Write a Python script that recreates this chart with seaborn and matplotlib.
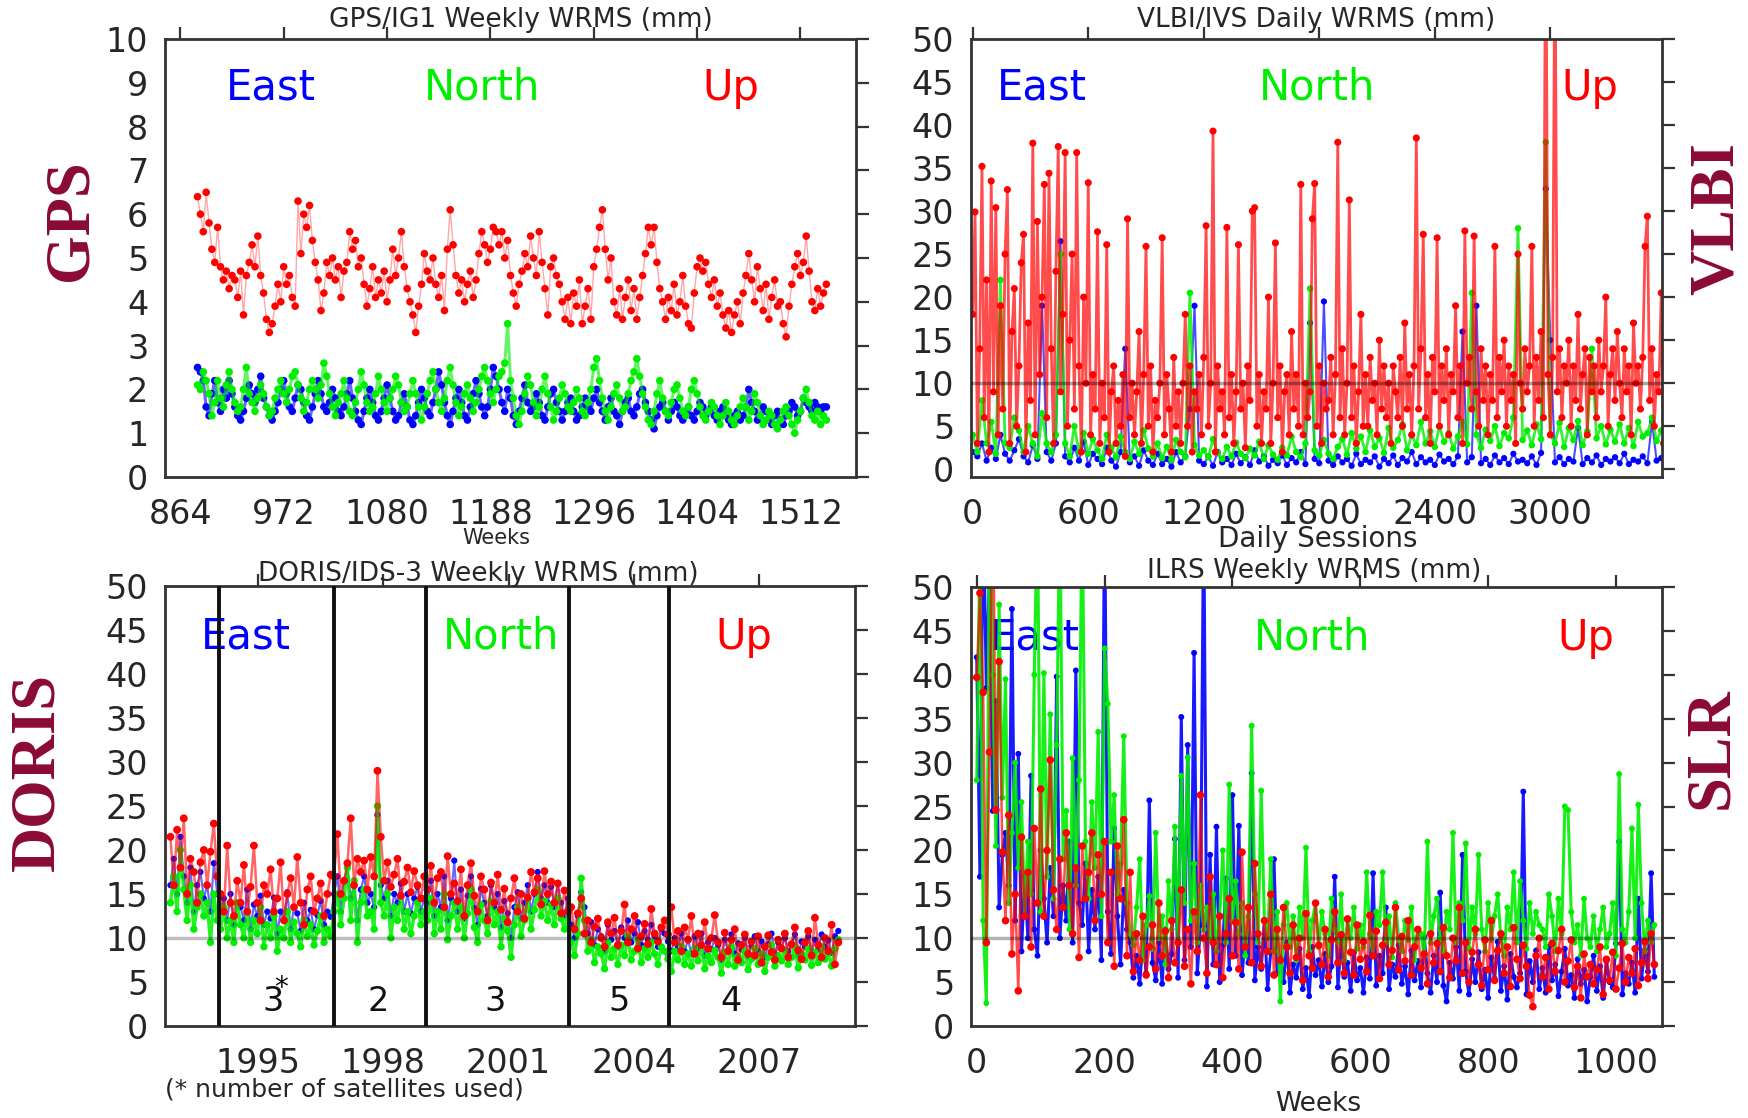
import numpy as np
import pandas as pd
import matplotlib
matplotlib.use("Agg")
import matplotlib.pyplot as plt
import seaborn as sns

# ---------------- data ----------------
# GPS (weekly, every 3rd week shown)
gps_start, gps_step = 882, 3
gps_up = [6.4, 6.0, 5.6, 6.5, 5.8, 5.2, 4.9, 5.7, 4.8, 4.5,
          4.7, 4.3, 4.6, 4.5, 4.1, 4.7, 3.7, 4.6, 4.9, 5.3,
          4.8, 5.5, 4.6, 4.2, 3.6, 3.3, 3.5, 3.9, 4.4, 4.0,
          4.8, 4.4, 4.6, 4.1, 3.9, 6.3, 5.1, 6.0, 5.7, 6.2,
          5.4, 4.9, 4.5, 3.8, 4.2, 4.9, 4.6, 5.0, 4.5, 4.8,
          4.1, 4.7, 4.9, 5.6, 5.2, 5.4, 4.8, 5.0, 4.4, 3.9,
          4.3, 4.8, 4.1, 4.5, 4.2, 4.7, 4.0, 4.5, 5.2, 4.6,
          5.0, 5.6, 4.8, 4.3, 4.0, 3.7, 3.3, 3.9, 4.4, 5.1,
          4.7, 4.5, 5.0, 4.4, 4.1, 4.6, 3.8, 5.2, 6.1, 5.3,
          4.6, 4.2, 4.5, 4.0, 4.4, 4.7, 4.1, 4.5, 5.1, 5.6,
          5.3, 4.9, 5.2, 5.7, 5.6, 5.3, 5.6, 5.0, 5.4, 4.6,
          4.2, 3.9, 4.4, 4.7, 5.1, 4.8, 5.5, 5.0, 4.6, 5.6,
          4.9, 4.3, 3.7, 4.8, 5.0, 4.6, 4.4, 4.0, 3.6, 4.1,
          3.5, 4.2, 3.9, 4.5, 3.5, 3.9, 4.3, 3.6, 4.8, 5.2,
          5.7, 6.1, 5.2, 4.5, 5.0, 4.0, 3.7, 4.3, 3.6, 4.1,
          4.5, 3.8, 4.3, 3.6, 4.1, 4.6, 5.1, 5.7, 5.3, 5.7,
          4.9, 4.3, 4.0, 3.6, 4.1, 3.8, 4.4, 3.7, 4.0, 4.6,
          3.9, 3.5, 3.4, 4.2, 4.8, 5.0, 4.7, 4.9, 4.4, 4.1,
          4.5, 3.9, 4.2, 3.7, 3.4, 3.8, 3.3, 3.7, 4.0, 3.5,
          4.2, 4.6, 5.1, 4.5, 4.0, 4.8, 4.3, 3.8, 4.4, 3.6,
          4.1, 4.5, 3.9, 4.0, 3.5, 3.2, 3.9, 4.4, 4.8, 5.1,
          4.6, 4.9, 5.5, 4.7, 4.0, 3.8, 4.3, 3.9, 4.2, 4.4]
gps_east = [2.5, 2.4, 2.2, 1.6, 1.4, 1.9, 2.2, 1.7, 1.5, 2.0,
            1.8, 2.2, 1.9, 1.6, 1.4, 1.3, 1.5, 1.8, 2.1, 1.9,
            1.7, 2.0, 2.3, 1.8, 1.6, 1.4, 1.3, 1.5, 1.7, 2.0,
            2.2, 1.9, 1.6, 1.5, 1.8, 2.1, 2.0, 1.7, 1.4, 1.3,
            1.6, 1.9, 2.2, 1.9, 1.6, 1.5, 1.7, 2.0, 1.8, 1.5,
            1.4, 1.6, 1.9, 2.2, 1.8, 1.5, 1.3, 1.2, 1.5, 1.8,
            2.0, 1.7, 1.4, 1.3, 1.5, 1.8, 2.1, 1.8, 1.5, 1.3,
            1.4, 1.7, 1.9, 1.6, 1.3, 1.2, 1.4, 1.7, 2.0, 1.8,
            1.5, 1.4, 1.7, 2.0, 2.4, 2.1, 1.7, 1.4, 1.2, 1.5,
            1.8, 2.0, 1.7, 1.4, 1.3, 1.6, 1.9, 2.2, 1.9, 1.6,
            1.4, 1.6, 2.0, 2.5, 2.3, 2.0, 1.7, 1.5, 2.0, 1.8,
            1.4, 1.2, 1.5, 1.8, 2.1, 1.7, 1.5, 1.6, 1.9, 1.7,
            1.4, 1.3, 1.6, 1.9, 2.0, 1.7, 1.5, 1.3, 1.5, 1.7,
            1.8, 1.5, 1.3, 1.4, 1.6, 1.8, 1.6, 1.5, 1.8, 2.0,
            1.7, 1.5, 1.3, 1.6, 1.8, 1.5, 1.4, 1.2, 1.5, 1.7,
            1.8, 1.5, 1.4, 1.6, 1.9, 2.0, 1.7, 1.5, 1.3, 1.1,
            1.4, 1.6, 1.7, 1.5, 1.3, 1.5, 1.7, 1.6, 1.4, 1.3,
            1.5, 1.6, 1.4, 1.3, 1.5, 1.7, 1.6, 1.4, 1.5, 1.6,
            1.4, 1.3, 1.5, 1.6, 1.4, 1.3, 1.2, 1.4, 1.5, 1.3,
            1.4, 1.6, 2.0, 1.7, 1.5, 1.3, 1.4, 1.6, 1.5, 1.3,
            1.2, 1.4, 1.5, 1.3, 1.2, 1.4, 1.5, 1.7, 1.6, 1.4,
            1.5, 1.8, 1.7, 1.6, 1.5, 1.7, 1.6, 1.5, 1.6, 1.6]
gps_north = [2.1, 2.0, 2.4, 2.2, 1.9, 1.4, 1.7, 2.2, 1.8, 1.6,
             2.1, 2.4, 2.0, 1.7, 1.5, 1.6, 2.0, 2.5, 1.9, 1.7,
             1.5, 1.8, 2.1, 1.9, 1.6, 1.4, 1.5, 1.8, 2.0, 2.2,
             1.9, 1.7, 2.0, 2.3, 2.4, 2.1, 1.8, 1.5, 1.7, 2.0,
             2.2, 2.0, 1.8, 2.1, 2.6, 2.3, 1.9, 1.6, 1.4, 1.7,
             1.9, 2.2, 1.8, 1.5, 1.4, 1.7, 2.0, 2.4, 2.1, 1.7,
             1.5, 1.6, 1.9, 2.3, 2.0, 1.7, 1.5, 1.8, 2.0, 2.3,
             2.1, 1.7, 1.5, 1.6, 1.9, 2.2, 1.9, 1.6, 1.3, 1.6,
             1.9, 2.2, 2.4, 2.0, 1.7, 1.5, 1.8, 2.2, 2.5, 2.1,
             1.7, 1.4, 1.6, 1.9, 2.1, 1.8, 1.5, 1.7, 2.0, 2.3,
             2.5, 2.2, 1.9, 1.7, 2.0, 2.3, 2.4, 2.6, 3.5, 2.2,
             1.8, 1.4, 1.2, 1.5, 1.9, 2.3, 2.1, 1.7, 1.4, 1.6,
             2.0, 2.3, 1.9, 1.6, 1.3, 1.5, 1.8, 2.1, 1.9, 1.6,
             1.5, 1.7, 2.0, 1.8, 1.5, 1.4, 1.7, 2.0, 2.5, 2.7,
             2.2, 1.8, 1.5, 1.3, 1.6, 1.9, 2.1, 1.8, 1.5, 1.6,
             1.9, 2.2, 2.4, 2.7, 2.3, 1.9, 1.6, 1.3, 1.2, 1.5,
             1.9, 2.2, 1.8, 1.5, 1.4, 1.7, 2.0, 2.1, 1.8, 1.5,
             1.4, 1.6, 2.0, 2.2, 1.9, 1.6, 1.4, 1.3, 1.5, 1.7,
             1.6, 1.4, 1.2, 1.4, 1.7, 1.5, 1.3, 1.2, 1.4, 1.6,
             1.8, 1.6, 1.3, 1.5, 1.9, 1.7, 1.4, 1.2, 1.3, 1.5,
             1.4, 1.2, 1.1, 1.3, 1.5, 1.6, 1.4, 1.2, 1.0, 1.3,
             1.5, 1.8, 2.0, 1.7, 1.4, 1.3, 1.5, 1.2, 1.4, 1.3]

# VLBI (daily sessions; Up every 12th session, East/North every 24th)
vlbi_up_step, vlbi_en_step = 12, 24
vlbi_up = [18, 29.9, 3, 14, 35.2, 6, 22, 2, 33.5, 9,
           30.4, 4, 19, 7, 25, 32.5, 3, 16, 21, 5,
           12, 24, 27.3, 2, 17, 8, 37.9, 4, 28.8, 11,
           20, 33.1, 6, 34.4, 14, 3, 23, 37.5, 9, 18,
           36.8, 5, 15, 25, 7, 36.8, 12, 2, 20, 10,
           33.3, 4, 11, 7, 27.6, 3, 10, 6, 26.1, 2,
           9, 12, 3, 8, 5, 11, 1.5, 29.1, 6, 10,
           4, 9, 16, 3, 11, 25.9, 5, 12, 2, 8,
           6, 10, 26.9, 4, 11, 7, 2, 13, 5, 9,
           3, 10, 18, 5, 12, 2, 9, 7, 11, 4,
           13, 28.3, 5, 10, 39.3, 2, 12, 7, 9, 4,
           28.1, 6, 11, 3, 9, 26.1, 7, 10, 2.5, 12,
           8, 30, 30.4, 5, 11, 3, 9, 7, 20, 3,
           10, 26.3, 6, 12, 2, 9, 11, 4, 16, 7,
           11, 5, 33.1, 4, 10, 6, 9, 29.1, 33.2, 5,
           12, 3, 10, 7, 8, 13, 4, 11, 38, 6,
           14, 4, 10, 31.3, 6, 12, 3, 9, 18, 5,
           11, 5, 13, 8, 10, 4, 15, 7, 12, 6,
           10, 3, 12, 9, 6, 13, 5, 17, 7, 11,
           4, 12, 38.5, 7, 14, 27.3, 6, 11, 3, 13,
           9, 26.9, 5, 12, 8, 14, 4, 11, 9, 19,
           6, 12, 3, 27.7, 10, 13, 7, 27.1, 9, 5,
           14, 8, 12, 4, 11, 8, 25.9, 6, 13, 9,
           15, 5, 12, 8, 11, 3, 25, 10, 7, 14,
           9, 12, 25.9, 5, 13, 8, 16, 6, 70, 11,
           4, 13, 65, 9, 14, 6, 12, 10, 15, 5,
           12, 8, 18, 7, 11, 14, 4, 13, 9, 12,
           6, 15, 9, 12, 20, 5, 11, 14, 8, 16,
           10, 6, 14, 9, 12, 4, 17, 10, 12, 7,
           13, 25.9, 29.4, 8, 14, 5, 11, 9, 20.5, 3]
vlbi_east = [2, 1.5, 3, 1, 2.5, 1.2, 4, 1.8, 1, 2.2,
             3.5, 1.5, 0.8, 2.8, 1.2, 19, 2, 1, 3, 26.5,
             1.5, 0.8, 2.5, 1, 3.2, 0.5, 1.8, 1.2, 0.6, 2.5,
             1, 0.3, 2, 14, 0.8, 1.5, 0.4, 2.2, 1, 0.5,
             1.8, 0.6, 1.2, 0.3, 2, 0.8, 1.5, 7, 19, 1,
             0.6, 1.5, 0.4, 2, 0.8, 1.2, 0.5, 1.8, 0.7, 1.4,
             0.5, 2.2, 0.9, 1.5, 0.4, 1.1, 0.7, 1.6, 0.5, 1.3,
             0.8, 2, 0.6, 17, 1.2, 0.7, 19.5, 1, 0.5, 1.5,
             0.8, 1.2, 0.4, 1.8, 0.6, 1.1, 0.8, 1.5, 0.3, 1.2,
             0.7, 1.6, 0.5, 1.3, 0.9, 2, 0.6, 1.4, 0.8, 1.1,
             0.5, 1.7, 0.9, 1.2, 0.6, 1.5, 16, 0.8, 1.4, 19,
             0.7, 1.2, 0.5, 1.6, 0.8, 1.3, 0.6, 1.8, 0.9, 1.1,
             0.7, 1.5, 0.5, 1.9, 32.6, 15, 0.8, 1.4, 0.6, 1.2,
             0.9, 4.8, 0.6, 1.3, 0.8, 1.6, 0.5, 1.2, 0.9, 1.4,
             0.7, 1.8, 0.6, 1.1, 0.9, 1.5, 0.7, 5.5, 1, 1.3]
vlbi_north = [4, 2, 8, 3, 5.5, 1.8, 22, 3, 2.5, 6,
              4.5, 2, 5, 3, 1.5, 6.5, 3, 2, 4, 25,
              3, 1.5, 5, 2, 4.2, 1.8, 3.5, 2.2, 1.2, 4,
              2.5, 1.4, 3.8, 2, 1.2, 3.2, 1.8, 4.5, 2.4, 1.5,
              3, 1.3, 2.6, 1.1, 3.4, 2, 1.4, 20.5, 2.8, 1.6,
              2.2, 1.4, 3.5, 1.9, 1.2, 2.6, 1.5, 3.1, 1.8, 1.3,
              2.4, 1.6, 3.2, 1.2, 2.8, 1.7, 1.1, 2.5, 1.6, 3.8,
              2, 1.4, 3, 21, 2.2, 1.6, 3.4, 1.8, 1.2, 2.6,
              3.5, 1.7, 4.2, 2.4, 3.8, 2, 4.5, 2.6, 3.6, 1.9,
              4.8, 2.5, 3.4, 5.2, 2.2, 4, 2.8, 5.5, 3, 4.4,
              2.6, 5, 3.2, 4.2, 2.4, 3.8, 5.5, 2.9, 20.5, 4,
              2.5, 4.6, 3.3, 5, 2.7, 4.2, 3.6, 6, 28, 3.4,
              4.5, 2.8, 5.2, 3.5, 38, 4, 3, 5.4, 2.6, 4.8,
              3.4, 5.6, 2.8, 4.4, 14, 3.6, 5, 2.9, 4.6, 3.2,
              5.2, 3, 4.8, 2.7, 5.5, 3.8, 4.2, 6, 3.3, 4.5]

# DORIS (decimal years, sampled every 0.08 yr)
doris_start, doris_step = 1992.90, 0.08
doris_up = [21.5, 16, 22.3, 18, 23.6, 15, 19, 17.5, 14, 18.6, 20, 16, 19.8, 23, 17,
            15, 13, 20.5, 14, 12.5, 16.5, 14, 18.3, 13, 15.8, 20.5, 14, 12, 16, 15, 17.8, 13,
            14.5, 18.6, 12, 15, 16.8, 13.5, 19.2, 14, 11.5, 15.5, 17, 13, 14.5, 16.2, 12.5, 15, 17.2,
            17, 21.8, 15, 16.5, 18.5, 23.6, 16, 19, 17.5, 18.8, 15.5, 19.2, 17, 29, 21.5, 16.5,
            18.6, 15.8, 17.2, 19, 14.8, 16.4, 18, 15.2, 17.6, 16, 14.5, 17,
            15.5, 18.2, 14, 16.8, 17.5, 13.5, 19.3, 15, 16.2, 14.2, 17.8, 12.5, 16, 18.5, 14.8,
            13, 17, 15.5, 12, 16.3, 14, 17.2, 13.2, 15.6, 11.8, 14.5, 16.8, 13, 15, 12.2, 14.6,
            17.5, 15.2, 16.8, 13.8, 17.6, 15, 16.4, 14, 16.2, 12.8, 15.4, 13,
            13.5, 11, 12.8, 14.5, 10.5, 12, 9.5, 11.3, 12.2, 10, 9, 11.8, 10.5, 12.3, 9.2,
            10.8, 13.8, 9.5, 11, 12.5, 8.8, 10.2, 11.6, 9.3, 13.3, 10.5, 9.6, 11.2, 12, 10.4,
            13.5, 9.5, 10.8, 8.5, 11.2, 9.8, 12.5, 8.2, 10.5, 9.2, 11.8, 8.8, 10, 12.6, 9.5,
            7.8, 10.6, 8.5, 9.8, 11, 7.5, 9.2, 10.4, 8.2, 9.6, 8, 10.2, 7.2, 9, 10.3, 8.4,
            7.5, 9.8, 8.8, 10.5, 7.8, 9.3, 11.2, 8.6, 7.6, 9.5, 10.8, 8, 12.3, 9.2, 7.8, 10,
            8.5, 11.5, 7, 9.5]
doris_north = [14, 17, 13, 20, 15.5, 12, 16, 11, 13.5, 15, 12.5, 14, 9.5, 15, 12,
               11, 13.5, 10, 12, 9.5, 14, 11.5, 10, 13, 9.5, 12, 10.5, 13.5, 9, 11.5, 10, 12.5,
               8.5, 11, 10, 13, 9.5, 11.8, 10.5, 9, 12, 10.2, 11.5, 9.2, 10.8, 12.5, 9.5, 11, 10.2,
               13, 15, 11.5, 14.5, 18, 12, 16.5, 9.5, 14, 15.5, 12.5, 13, 11, 25, 14, 12.5,
               15, 10, 13.5, 12, 14.8, 11, 13, 10.5, 12.5, 14, 11.5, 13,
               12, 14.5, 10.5, 13, 11, 15, 9.8, 12.5, 14, 11, 13.5, 10, 12.8, 15.5, 11.2,
               9.5, 13.8, 12, 10.5, 14.2, 11.5, 13, 9, 12.2, 10.8, 7.8, 11.5, 13.5, 10.2, 12,
               14.5, 11, 13.2, 15.5, 12.5, 14.2, 12, 13.8, 11.5, 14.5, 12.2, 11, 12.8,
               9.5, 8, 10.5, 16.8, 12, 8.5, 9.8, 7.2, 9, 8.2, 6.5, 9.5, 7.8, 8.8, 7,
               9.2, 8, 10.2, 7.5, 8.5, 9.8, 7.2, 8.8, 7.8, 9.5, 8.2, 7, 9, 8.5, 7.6,
               6.2, 8.5, 7.5, 9, 7, 8.2, 6.8, 8.8, 7.4, 9.2, 6.5, 8, 7.2, 8.6, 7.8,
               6, 8.4, 7, 9, 6.8, 7.9, 7.2, 8.5, 6.4, 7.6, 8.8, 7, 8.2, 6.2, 7.8, 9.2,
               6.8, 8, 7.4, 8.6, 7, 7.8, 9, 6.6, 8.2, 7.5, 8.8, 6.9, 8.4, 7.2, 9, 7.6,
               8.3, 6.8, 8.8, 9.8]
doris_east = [16, 19, 15, 21.5, 17, 14, 18, 13, 16, 17.5, 14.5, 16, 13, 18.5, 15,
              13, 14.5, 12, 15, 11.5, 14, 13.5, 12, 15.5, 11, 13.8, 12.5, 14.8, 11.5, 13, 12.2,
              14.6, 10.5, 13, 12, 15.2, 11, 13.5, 12.8, 10.8, 14, 12, 13.2, 11, 12.6, 14.2, 11.5,
              13, 12.4,
              15, 17, 13, 16.5, 18, 14.5, 16, 12, 15.5, 17, 14, 15, 13.5, 24, 16, 14.5, 16.5,
              12.5, 15, 14, 16.2, 13, 15, 12.8, 14.5, 15.8, 13, 14.5,
              14, 16.5, 12.5, 15, 13.5, 17, 12, 14.5, 18.8, 13, 15.5, 12.2, 14.8, 17, 13.4,
              11.5, 15.6, 14, 12.5, 16, 13.5, 15, 11.2, 14.2, 12.8, 10, 13.5, 15.2, 12.2, 14,
              16, 13, 15, 17.5, 14.5, 16, 14, 15.8, 13.5, 16.2, 14, 12.5, 14.5,
              11.5, 10, 12.5, 15.2, 13.5, 10.5, 11.8, 9.2, 11, 10.2, 8.5, 11.5, 9.8, 10.8, 9,
              11.2, 10, 12, 9.5, 10.5, 11.8, 9.2, 10.8, 9.8, 11.5, 10.2, 9, 11, 10.5, 9.6,
              8.5, 10, 9, 10.5, 8.5, 9.8, 8.2, 10.2, 8.8, 10.5, 8, 9.5, 8.7, 10, 9.2,
              7.5, 9.8, 8.5, 10.4, 8.2, 9.4, 8.7, 10, 7.9, 9.1, 10.2, 8.5, 9.6, 7.8, 9.3,
              10.5, 8.2, 9.5, 8.9, 10, 8.5, 9.2, 10.4, 8.1, 9.6, 9, 10.2, 8.4, 9.8, 8.7,
              10.4, 9, 9.7, 8.3, 10.2, 10.8]
doris_sat_breaks = [1994.07, 1996.83, 1999.03, 2002.46, 2004.85]
doris_sat_years = [1995.35, 1997.87, 2000.67, 2003.64, 2006.34]
doris_sat_count = ["3", "2", "3", "5", "4"]

# SLR (weekly, every 5th week shown)
slr_step = 5
slr_up = [39.7, 49.3, 38, 9.5, 31.2, 65, 24.6, 41.5, 19.8, 12,
          24, 8.2, 15, 4, 21.5, 12.5, 17.5, 9, 22.5, 14,
          27, 12.5, 20, 30.3, 15.5, 11, 19, 13.5, 22, 16,
          10.5, 18, 7.8, 20.5, 14.5, 17.5, 22, 12, 19.5, 15,
          21, 9.5, 17.5, 6.8, 20.5, 14.5, 23.5, 8, 17.5,
          6.2, 10.5, 7.5, 12.5, 5.8, 9, 11.5, 6.5, 14, 8, 10.8, 5.5,
          12, 7.2, 9.5, 15.5, 6.8, 11, 4.8, 13, 8.5, 26.3, 10, 6,
          17, 9.5, 7, 12.5, 5.5, 10.5, 14.5, 8, 11.8, 6.5, 19.8, 9,
          13.5, 7.2, 18.5, 10.5, 6.8, 12, 8.5, 15, 5.8, 11, 7.5, 13.5,
          9, 6, 11.5, 7.8, 10, 5.2, 12.8, 8, 6.6, 14, 9.2, 7,
          11, 5.6, 9.8, 13, 7.2, 10.4, 6, 12.2, 8.4, 5.8, 11.5, 7.6,
          9.6, 6.2, 12.6, 8, 10.8, 5.4, 9.2, 11.8, 7, 8.6, 13.5, 6.4,
          10.2, 7.4, 12, 5.8, 9, 11, 6.6, 8.2, 4.8, 10.5, 7.2, 9.4,
          6.2, 11.2, 8, 5.5, 10, 7.4, 13.5, 6, 9.5, 5, 8.4, 11,
          7, 4.6, 9.8, 6.4, 12, 5.2, 8.6, 10.5, 6, 9, 4.5, 11.2,
          7.6, 5.4, 9.2, 6.8, 3.5, 2.2, 8, 10, 5.6, 7.8, 4.2, 9.4,
          6.2, 8.6, 11, 5, 7.4, 9.8, 4.4, 6.8, 3.2, 8.2, 5.6, 7,
          4.8, 6.4, 9, 3.6, 7.6, 5.2, 8.4, 4.2, 6.6, 9.4, 5, 7.8,
          6, 8.8, 4.6, 7.2, 9.6, 5.4, 10.5, 7]
slr_east = [42, 17, 60, 38.5, 52, 24.5, 37, 13.5, 19.5, 22, 16, 47.5, 12,
            31, 8.5, 17, 10, 28.5, 11, 8, 20, 14.5, 9.5, 18, 12.5,
            39.8, 10, 16, 12, 21, 9.5, 40.5, 14, 11.5, 18.5, 8.5, 15.5,
            11, 17, 7.5, 60, 13, 8.2, 22.5, 12.5, 7, 15.5, 11, 9.5,
            5.5, 8, 4.8, 10, 6, 25.7, 7.2, 5.2, 9.5, 4.8, 11, 6.5,
            8.2, 21.3, 5.5, 35.2, 7.5, 32, 9, 42.5, 6, 11.5, 60, 4.5,
            19.5, 7, 22.7, 5, 9.2, 16.8, 6.5, 26.3, 8, 22.8, 5.8, 10,
            7.2, 28.8, 5.2, 9, 6.5, 12, 4.2, 8.5, 19, 6, 7.8, 5,
            9.5, 3.8, 7, 5.5, 8.8, 4.2, 6.6, 3.4, 9, 5.8, 7.5, 4.5,
            8.2, 5, 6.8, 17, 4.4, 9.6, 5.6, 7.2, 4, 8.4, 5.2, 6.6,
            3.8, 7.8, 5.4, 17.4, 4.6, 8, 6, 13.5, 4.2, 7, 5.6, 9.2,
            4.8, 6.8, 3.6, 8.6, 5.2, 7.4, 4.4, 10.2, 6, 3.8, 8, 5,
            15.2, 4.6, 2.8, 7.2, 5.4, 9, 4, 19.5, 6.2, 3.6, 7.6, 5,
            8.4, 4.2, 6.4, 3.2, 7.8, 5.4, 9.6, 4, 6.8, 3, 8.2, 5.6,
            4.4, 6, 26.7, 3.6, 7.4, 5, 8.6, 4.2, 6.6, 3.8, 9, 5.2,
            7, 3.4, 6.2, 8.8, 4.6, 5.8, 3.2, 7.6, 4.8, 6.4, 2.8, 5.6,
            8, 4, 6.8, 3.2, 7.4, 5, 4.4, 9.4, 21, 3.6, 6, 4.8,
            7.2, 3.8, 14.5, 5.4, 8.6, 6.2, 17.4, 5.6]
slr_north = [28, 55, 12, 2.6, 60, 40, 20.5, 48, 26, 39.5, 14, 22, 30,
             18, 25.5, 12.5, 21, 15, 40, 60, 13, 40.2, 17, 35.5, 14.5,
             32, 60, 19, 24.5, 11, 30.5, 16, 28, 60, 21, 14.5, 25.5,
             18, 33.5, 12.5, 43, 36.7, 21, 26.3, 15, 18.5, 33, 14, 10.5,
             9.2, 13.5, 19, 7.5, 11.5, 14.8, 8.8, 22, 10, 12.5, 7, 16.5,
             11, 22.7, 9.5, 28.5, 14, 30.6, 12, 18.5, 9.5, 16, 11, 13.5,
             10, 15, 8.5, 12.5, 20, 9.5, 27.5, 12, 16.5, 10.5, 14, 8,
             12.5, 34.2, 15, 9.5, 26.8, 12, 10, 19, 8.5, 13, 2.8, 11.5,
             14, 9, 12.5, 7.5, 13.5, 10, 20.3, 8.5, 12, 14, 9, 13,
             10.5, 8, 14.5, 11, 9.5, 15, 7.5, 12, 10, 13.5, 8.8, 11.5,
             9, 17.5, 10.5, 8, 13, 11.5, 17.5, 9.5, 12.5, 7.8, 14, 10,
             8.5, 12, 9.8, 13.5, 7.5, 11, 10.5, 8, 21, 9.5, 12.5, 14.5,
             10, 8.5, 13, 11, 22, 9.5, 14, 12, 20.8, 8.8, 13.5, 10.5,
             19.5, 11, 8.5, 14, 9.8, 12.5, 15, 10, 8, 13.5, 11, 17.5,
             9.5, 16.5, 12, 8.8, 14, 10.5, 13, 11.5, 11, 9, 15, 12.5,
             8.5, 14.5, 10.5, 25, 24.6, 13, 9.5, 11.5, 8, 14.5, 10, 9,
             12.5, 8.5, 11, 13.5, 9, 10.5, 14, 8, 28.7, 11, 9.5, 13,
             22.5, 10, 25.2, 14, 8.5, 12, 9.5, 11.5]

components = ["East", "North", "Up"]
comp_colors = {"East": "#0000ff", "North": "#00ee00", "Up": "#ff0000"}
label_color = "#8b0a36"

# ---------------- style ----------------
sns.set_style("white")
plt.rcParams["font.family"] = ["DejaVu Sans"]
plt.rcParams["axes.linewidth"] = 2.0
plt.rcParams["axes.edgecolor"] = "#333333"

W, H = 1748, 1118
fig = plt.figure(figsize=(W / 100, H / 100), dpi=100)
fig.patch.set_facecolor("white")


def px_axes(l, t, r, b):
    return fig.add_axes([l / W, 1 - b / H, (r - l) / W, (b - t) / H])


ax_gps = px_axes(165, 39, 856, 477)
ax_vlbi = px_axes(971, 39, 1662, 477)
ax_doris = px_axes(165, 586, 855, 1026)
ax_slr = px_axes(971, 587, 1662, 1026)


def make_df(x0, step, values):
    v = np.asarray(values, dtype=float)
    return pd.DataFrame({"x": x0 + step * np.arange(len(v)), "y": v})


def draw(ax, df, color, lw, lalpha, s, zbase):
    sns.lineplot(data=df, x="x", y="y", ax=ax, color=color, lw=lw, alpha=lalpha,
                 estimator=None, sort=False, legend=False, zorder=zbase)
    sns.scatterplot(data=df, x="x", y="y", ax=ax, color=color, s=s,
                    edgecolor="none", linewidth=0, legend=False, zorder=zbase + 0.1)


def style_axes(ax, xlim, ylim, xticks, yticks):
    ax.set_xlim(*xlim)
    ax.set_ylim(*ylim)
    ax.set_xticks(xticks)
    ax.set_yticks(yticks)
    ax.tick_params(direction="out", length=9, width=1.6, color="#333333",
                   top=True, right=True, labeltop=False, labelright=False,
                   labelsize=24, pad=3)
    ax.tick_params(axis="x", pad=6)
    ax.set_xlabel("")
    ax.set_ylabel("")
    for sp in ax.spines.values():
        sp.set_visible(True)
        sp.set_linewidth(2.0)


def comp_text(ax, xs, y):
    for name, xf in zip(components, xs):
        ax.text(xf, y, name, transform=ax.transAxes, fontsize=30,
                color=comp_colors[name], ha="left", va="baseline", zorder=1)


# ---- GPS ----
draw(ax_gps, make_df(gps_start, gps_step, gps_east), comp_colors["East"], 2.2, 0.6, 30, 2)
draw(ax_gps, make_df(gps_start, gps_step, gps_north), comp_colors["North"], 2.2, 0.6, 30, 2.2)
draw(ax_gps, make_df(gps_start, gps_step, gps_up), comp_colors["Up"], 1.0, 0.35, 30, 2.4)
style_axes(ax_gps, (848, 1570), (0, 10), np.arange(864, 1513, 108), np.arange(0, 11, 1))
comp_text(ax_gps, [0.088, 0.375, 0.777], 0.861)

# ---- VLBI ----
draw(ax_vlbi, make_df(0, vlbi_en_step, vlbi_east), comp_colors["East"], 1.5, 0.7, 20, 2)
draw(ax_vlbi, make_df(0, vlbi_en_step, vlbi_north), comp_colors["North"], 2.0, 0.8, 22, 2.2)
draw(ax_vlbi, make_df(0, vlbi_up_step, vlbi_up), comp_colors["Up"], 2.0, 0.7, 26, 2.4)
ax_vlbi.axhline(10, color="black", alpha=0.35, lw=2.5, zorder=5)
style_axes(ax_vlbi, (-9, 3580), (-0.9, 50), np.arange(0, 3001, 600), np.arange(0, 51, 5))
comp_text(ax_vlbi, [0.038, 0.416, 0.854], 0.861)

# ---- DORIS ----
draw(ax_doris, make_df(doris_start, doris_step, doris_east), comp_colors["East"], 1.5, 0.6, 20, 2)
draw(ax_doris, make_df(doris_start, doris_step, doris_north), comp_colors["North"], 2.4, 0.85, 28, 2.2)
draw(ax_doris, make_df(doris_start, doris_step, doris_up), comp_colors["Up"], 1.8, 0.6, 32, 2.4)
ax_doris.axhline(10, color="black", alpha=0.25, lw=2.5, zorder=5)
for xb in doris_sat_breaks:
    ax_doris.axvline(xb, color="#111111", lw=2.8, zorder=6)
for xc, n in zip(doris_sat_years, doris_sat_count):
    ax_doris.text(xc, 2.8, n, fontsize=24, ha="center", va="center", color="#111111", zorder=7)
ax_doris.text(doris_sat_years[0] + 0.2, 4.3, "*", fontsize=20, ha="center", va="center",
              color="#111111", zorder=7)
style_axes(ax_doris, (1992.77, 2009.3), (0, 50), np.arange(1995, 2008, 3), np.arange(0, 51, 5))
comp_text(ax_doris, [0.052, 0.403, 0.797], 0.857)

# ---- SLR ----
draw(ax_slr, make_df(0, slr_step, slr_east), comp_colors["East"], 2.2, 0.9, 18, 2)
draw(ax_slr, make_df(0, slr_step, slr_north), comp_colors["North"], 2.2, 0.9, 18, 2.2)
draw(ax_slr, make_df(0, slr_step, slr_up), comp_colors["Up"], 1.8, 0.7, 30, 2.4)
ax_slr.axhline(10, color="black", alpha=0.3, lw=2.5, zorder=5)
style_axes(ax_slr, (-9, 1072), (0, 50), np.arange(0, 1001, 200), np.arange(0, 51, 5))
comp_text(ax_slr, [0.027, 0.41, 0.849], 0.857)

# ---- titles and labels ----
fig.text(521 / W, 1 - 20 / H, "GPS/IG1 Weekly WRMS (mm)", fontsize=19, ha="center", va="center")
fig.text(1316 / W, 1 - 20 / H, "VLBI/IVS Daily WRMS (mm)", fontsize=19, ha="center", va="center")
fig.text(478 / W, 1 - 574 / H, "DORIS/IDS-3 Weekly WRMS (mm)", fontsize=19, ha="center", va="center")
fig.text(1314 / W, 1 - 571 / H, "ILRS Weekly WRMS (mm)", fontsize=19, ha="center", va="center")

fig.text(496 / W, 1 - 538 / H, "Weeks", fontsize=15, ha="center", va="center")
fig.text(1318 / W, 1 - 539 / H, "Daily Sessions", fontsize=20, ha="center", va="center")
fig.text(1318 / W, 1 - 1104 / H, "Weeks", fontsize=19, ha="center", va="center")
fig.text(165 / W, 1 - 1090 / H, "(* number of satellites used)", fontsize=18, ha="left", va="center")

side_kw = dict(fontsize=45, fontweight="bold", family=["Liberation Serif", "DejaVu Serif"],
               color=label_color, rotation=90, ha="center", va="center")
fig.text(72 / W, 1 - 220 / H, "GPS", **side_kw)
fig.text(38 / W, 1 - 772 / H, "DORIS", **side_kw)
fig.text(1718 / W, 1 - 218 / H, "VLBI", **side_kw)
fig.text(1712 / W, 1 - 748 / H, "SLR", **side_kw)

fig.savefig("out.png", dpi=100, facecolor="white")
